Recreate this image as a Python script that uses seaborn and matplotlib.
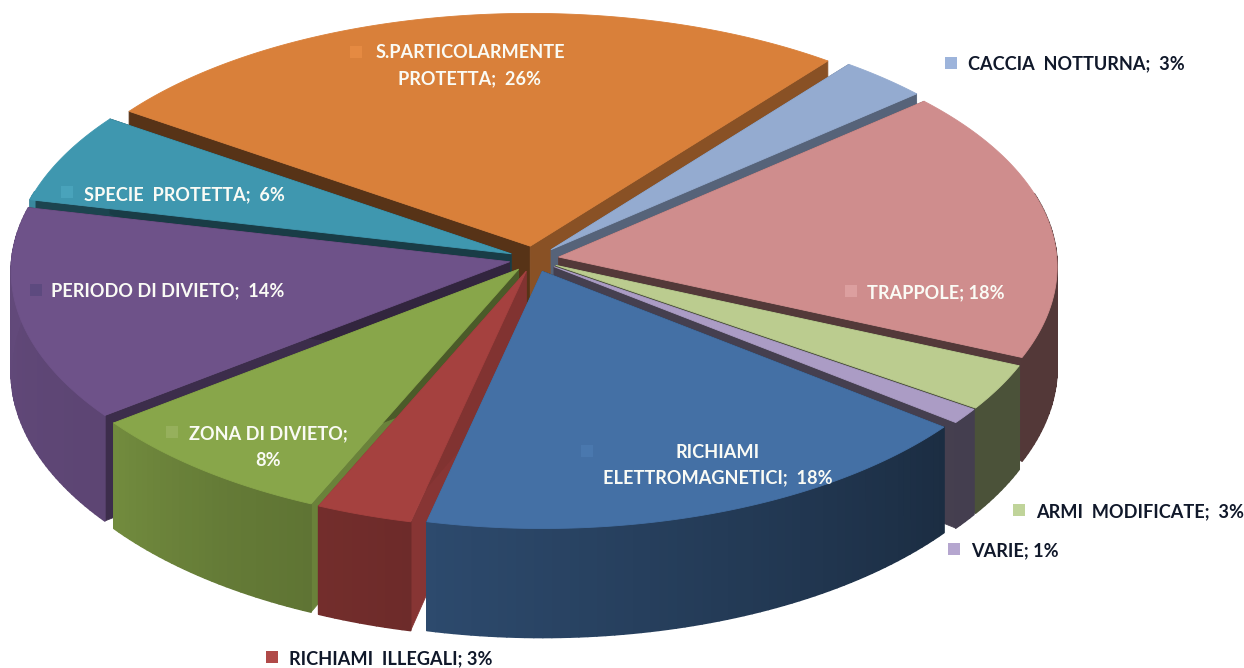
import numpy as np
import matplotlib
matplotlib.use("Agg")
import matplotlib.pyplot as plt
from matplotlib.patches import Rectangle
import seaborn as sns

categories = ["S.PARTICOLARMENTE\nPROTETTA;  26%", "CACCIA  NOTTURNA;  3%", "TRAPPOLE; 18%",
              "ARMI  MODIFICATE;  3%", "VARIE; 1%", "RICHIAMI\nELETTROMAGNETICI;  18%",
              "RICHIAMI  ILLEGALI; 3%", "ZONA DI DIVIETO;\n8%", "PERIODO DI DIVIETO;  14%",
              "SPECIE  PROTETTA;  6%"]
values = [26, 3, 18, 3, 1, 18, 3, 8, 14, 6]
top_hex = ["#D9803A", "#94ABD0", "#CF8D8D", "#BBCC8F", "#AB9CC5",
           "#4470A5", "#A5413F", "#88A64A", "#6E5289", "#3F97AF"]
key_hex = ["#E58A42", "#9DB4DB", "#DC9F9F", "#C0D49A", "#B5A6CF",
           "#4A78AE", "#B04A48", "#96B05C", "#5D4A7F", "#49A3BB"]

sns.set_theme(style="white")
plt.rcParams["font.family"] = ["Lato", "DejaVu Sans"]
top_colors = sns.color_palette(top_hex)
key_colors = sns.color_palette(key_hex)

START = -55.5
CX, CY, RX, RY = 534.0, 259.0, 498.0, 245.0
EX, EY = 25.0, 13.0
PERSP_X, PERSP_Y = 0.04, 0.05

def project(t, r=1.0):
    a = np.radians(t)
    X, Y = r * np.sin(a), -r * np.cos(a)
    return X * RX * (1 + PERSP_X * Y), Y * RY * (1 + PERSP_Y * Y), Y

def depth(Y):
    return 100 + 9 * Y

def outer_shade(t):
    return np.interp(t, [0, 128, 193, 215, 233, 283, 360], [.4, .4, .66, .74, .84, .9, .9])

def edge_shade(t):
    return np.interp(t, [0, 38, 49, 114, 128, 193, 204, 232, 283, 304.5, 360],
                     [.63, .63, .58, .4, .4, .82, .78, .55, .45, .4, .4])

def tint(col, f):
    return tuple(np.clip(np.array(col) * f, 0, 1))

fig, ax = plt.subplots(figsize=(12.44, 6.68), dpi=100)
fig.subplots_adjust(0, 0, 1, 1)
ax.set_xlim(0, 1244)
ax.set_ylim(668, 0)
ax.axis("off")

edges = START + np.concatenate([[0], np.cumsum(values)]) * 3.6
slices = []
for i, v in enumerate(values):
    t1, t2 = edges[i], edges[i + 1]
    mid = (t1 + t2) / 2
    ox = CX + EX * np.sin(np.radians(mid))
    oy = CY - EY * np.cos(np.radians(mid))
    span_y = -np.cos(np.radians(np.linspace(t1, t2, 200)))
    key = (span_y.max() + -np.cos(np.radians(mid))) / 2
    slices.append((key, i, t1, t2, ox, oy))

def poly(xs, ys, col, lw=0.6):
    ax.fill(xs, ys, color=col, lw=lw, ec=col, joinstyle="round")

for _, i, t1, t2, ox, oy in sorted(slices):
    base = top_colors[i]
    d0 = depth(0)
    for t in (t1, t2):
        x, y, Y = project(t)
        d = depth(Y)
        poly([ox, ox + x, ox + x, ox], [oy, oy + y, oy + y + d, oy + d0],
             tint(base, edge_shade(t % 360)))
    ts = np.linspace(t1, t2, max(int(t2 - t1) + 2, 3))
    for a, b in zip(ts[:-1], ts[1:]):
        xa, ya, Ya = project(a)
        xb, yb, Yb = project(b)
        if Ya < -0.25 and Yb < -0.25:
            continue
        col = tint(base, outer_shade(((a + b) / 2) % 360))
        poly([ox + xa, ox + xb, ox + xb, ox + xa],
             [oy + ya, oy + yb, oy + yb + depth(Yb), oy + ya + depth(Ya)], col, lw=1.2)
    xa, ya, _ = project(np.linspace(t1, t2, 120))
    poly(np.r_[ox, ox + xa], np.r_[oy, oy + ya], base)

# label placement: anchor x, y of the first line, alignment, key-square centre, text colour
INK, PALE = "#10182A", "#FAFBF5"
placement = [
    (470, 52, "center", 356, 52, PALE), (968, 63, "left", 951, 63, INK),
    (867, 292, "left", 851, 291, PALE), (1036, 511, "left", 1019, 510, INK),
    (971, 550, "left", 954, 549, INK), (718, 451, "center", 587, 451, PALE),
    (289, 658, "left", 272, 657, INK), (268, 433, "center", 172, 432, PALE),
    (51, 290, "left", 36, 290, PALE), (84, 194, "left", 67, 192, PALE),
]
for label, key, (x, y, ha, kx, ky, col) in zip(categories, key_colors, placement):
    ax.add_patch(Rectangle((kx - 6, ky - 6), 12, 12, color=key, lw=0))
    for n, line in enumerate(label.split("\n")):
        ax.text(x, y + 1 + 26 * n, line, ha=ha, va="center", color=col,
                fontsize=13.1, fontweight="bold")

fig.savefig("out.png", dpi=100, facecolor="white")
